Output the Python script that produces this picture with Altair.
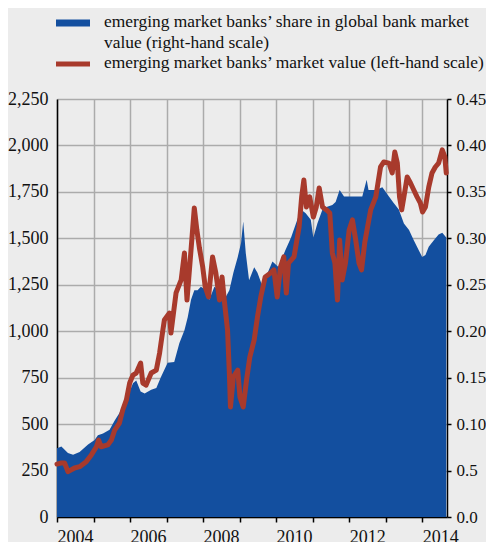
import altair as alt
import pandas as pd

# market value (left-hand scale)
red_t = [2004.00, 2004.10, 2004.21, 2004.30, 2004.48, 2004.62, 2004.80, 2004.94, 2005.08, 2005.14,
         2005.21, 2005.39, 2005.49, 2005.58, 2005.71, 2005.80, 2005.90, 2005.99, 2006.08, 2006.17,
         2006.29, 2006.35, 2006.44, 2006.58, 2006.72, 2006.81, 2006.90, 2006.94, 2007.08, 2007.12,
         2007.26, 2007.40, 2007.49, 2007.56, 2007.67, 2007.72, 2007.76, 2007.83, 2007.90, 2007.99,
         2008.06, 2008.15, 2008.26, 2008.35, 2008.45, 2008.52, 2008.58, 2008.67, 2008.72, 2008.75,
         2008.83, 2008.95, 2009.01, 2009.10, 2009.19, 2009.28, 2009.40, 2009.49, 2009.58, 2009.70,
         2009.85, 2009.94, 2010.03, 2010.12, 2010.21, 2010.28, 2010.34, 2010.49, 2010.63, 2010.70,
         2010.76, 2010.83, 2010.92, 2011.02, 2011.10, 2011.18, 2011.27, 2011.38, 2011.47, 2011.54,
         2011.61, 2011.68, 2011.74, 2011.81, 2011.90, 2012.00, 2012.09, 2012.18, 2012.27, 2012.34,
         2012.43, 2012.59, 2012.73, 2012.86, 2012.95, 2013.09, 2013.18, 2013.25, 2013.32, 2013.38,
         2013.44, 2013.50, 2013.59, 2013.68, 2013.77, 2013.86, 2013.95, 2014.01, 2014.09, 2014.18,
         2014.27, 2014.36, 2014.45, 2014.55, 2014.62, 2014.66]
red_v = [285, 290, 290, 244, 264, 271, 298, 334, 378, 414,
         378, 388, 414, 468, 506, 576, 630, 721, 764, 775,
         829, 721, 710, 775, 791, 883, 1007, 1060, 1098, 990,
         1206, 1276, 1421, 1168, 1437, 1563, 1663, 1545, 1448, 1346,
         1238, 1184, 1400, 1313, 1168, 1292, 1168, 1007, 775, 592,
         754, 791, 646, 592, 737, 861, 953, 1077, 1184, 1292,
         1313, 1330, 1184, 1346, 1400, 1206, 1367, 1400, 1561, 1723,
         1814, 1669, 1723, 1615, 1669, 1771, 1669, 1653, 1636, 1421,
         1367, 1168, 1491, 1276, 1367, 1545, 1599, 1491, 1367, 1330,
         1480, 1653, 1723, 1884, 1911, 1905, 1852, 1965, 1905, 1723,
         1653, 1723, 1830, 1798, 1760, 1723, 1690, 1642, 1669, 1776,
         1852, 1884, 1905, 1976, 1938, 1852]

# share in global bank market value (right-hand scale)
blue_t = [2004.00, 2004.12, 2004.30, 2004.44, 2004.62, 2004.85, 2005.03, 2005.12, 2005.26, 2005.44,
          2005.58, 2005.71, 2005.85, 2005.99, 2006.08, 2006.17, 2006.29, 2006.40, 2006.58, 2006.72,
          2006.85, 2007.03, 2007.21, 2007.35, 2007.49, 2007.58, 2007.67, 2007.76, 2007.85, 2007.94,
          2008.08, 2008.17, 2008.31, 2008.45, 2008.58, 2008.72, 2008.83, 2008.95, 2009.04, 2009.10,
          2009.17, 2009.26, 2009.40, 2009.49, 2009.63, 2009.77, 2009.90, 2010.07, 2010.25, 2010.41,
          2010.58, 2010.68, 2010.81, 2010.95, 2011.02, 2011.13, 2011.27, 2011.40, 2011.54, 2011.63,
          2011.74, 2011.86, 2012.00, 2012.18, 2012.36, 2012.48, 2012.53, 2012.73, 2012.91, 2013.09,
          2013.22, 2013.36, 2013.50, 2013.64, 2013.77, 2013.91, 2014.00, 2014.09, 2014.18, 2014.32,
          2014.45, 2014.55, 2014.66]
blue_s = [0.074, 0.076, 0.069, 0.067, 0.070, 0.078, 0.083, 0.088, 0.090, 0.094,
          0.104, 0.112, 0.123, 0.135, 0.144, 0.147, 0.135, 0.133, 0.137, 0.139,
          0.151, 0.166, 0.167, 0.187, 0.201, 0.215, 0.234, 0.244, 0.244, 0.248,
          0.244, 0.234, 0.248, 0.244, 0.234, 0.244, 0.263, 0.280, 0.295, 0.318,
          0.284, 0.255, 0.269, 0.263, 0.248, 0.263, 0.275, 0.269, 0.287, 0.301,
          0.320, 0.331, 0.327, 0.320, 0.301, 0.316, 0.331, 0.334, 0.336, 0.339,
          0.352, 0.345, 0.345, 0.345, 0.345, 0.363, 0.352, 0.352, 0.355, 0.345,
          0.338, 0.331, 0.316, 0.309, 0.298, 0.287, 0.280, 0.282, 0.291, 0.298,
          0.304, 0.306, 0.301]

left_ticks = [0, 250, 500, 750, 1000, 1250, 1500, 1750, 2000, 2250]
right_ticks = [0.0, 0.05, 0.10, 0.15, 0.20, 0.25, 0.30, 0.35, 0.40, 0.45]
year_ticks = list(range(2004, 2015))

legend_blue_1 = "emerging market banks\u2019 share in global bank market"
legend_blue_2 = "value (right-hand scale)"
legend_red = "emerging market banks\u2019 market value (left-hand scale)"

BLUE = "#134f9f"
RED = "#a83a2c"
FONT = "Liberation Serif"
TXT = "#111111"

red_df = pd.DataFrame({"t": red_t, "v": red_v})
blue_df = pd.DataFrame({"t": blue_t, "s": blue_s})

common_axis = dict(labelFont=FONT, labelColor=TXT, title=None,
                   domainColor="#000000", domainWidth=1.5,
                   tickColor="#000000", tickWidth=1.5,
                   gridColor="#ababab", gridWidth=1.5, gridOpacity=1)

x_scale = alt.Scale(domain=[2004, 2014.68], nice=False, zero=False)
x_axis = alt.Axis(values=year_ticks, grid=True, labelFontSize=18,
                  labelExpr="datum.value % 2 == 0 ? format(datum.value, 'd') : ''",
                  labelOffset=18, labelAlign="center", labelOverlap=False,
                  labelFlush=False, labelBound=False, tickSize=5, labelPadding=6,
                  **common_axis)

area = alt.Chart(blue_df).mark_area(color=BLUE, opacity=1, interpolate="linear").encode(
    x=alt.X("t:Q", scale=x_scale, axis=x_axis),
    y=alt.Y("s:Q", scale=alt.Scale(domain=[0, 0.45], nice=False),
            axis=alt.Axis(orient="right", values=right_ticks, grid=True,
                          tickSize=4, labelPadding=5, labelFontSize=17,
                          labelExpr="datum.value == 0 ? '0.0' : (abs(datum.value - 0.05) < 0.001 ? '0.5' : format(datum.value, '.2f'))",
                          **common_axis)),
)

line = alt.Chart(red_df).mark_line(color=RED, strokeWidth=5, strokeJoin="round",
                                   strokeCap="round").encode(
    x=alt.X("t:Q", scale=x_scale, axis=x_axis),
    y=alt.Y("v:Q", scale=alt.Scale(domain=[0, 2250], nice=False),
            axis=alt.Axis(orient="left", values=left_ticks, grid=False,
                          format=",.0f", ticks=False, labelPadding=9, labelFontSize=18,
                          **common_axis)),
)

dummy = alt.Data(values=[{"a": 1}])
sw_blue = alt.Chart(dummy).mark_rule(color=BLUE, strokeWidth=7).encode(
    x=alt.value(-1), x2=alt.value(33), y=alt.value(-76))
sw_red = alt.Chart(dummy).mark_rule(color=RED, strokeWidth=5).encode(
    x=alt.value(-1), x2=alt.value(33), y=alt.value(-35))
txt_props = dict(align="left", baseline="alphabetic", font=FONT, fontSize=17.4, color=TXT)
t1 = alt.Chart(dummy).mark_text(text=legend_blue_1, **txt_props).encode(x=alt.value(47), y=alt.value(-72))
t2 = alt.Chart(dummy).mark_text(text=legend_blue_2, **txt_props).encode(x=alt.value(47), y=alt.value(-51))
t3 = alt.Chart(dummy).mark_text(text=legend_red, **txt_props).encode(x=alt.value(47), y=alt.value(-31))

chart = alt.layer(area, line, sw_blue, sw_red, t1, t2, t3).resolve_scale(
    y="independent"
).properties(
    width=390, height=418,
    autosize=alt.AutoSizeParams(type="none"),
    padding={"left": 49, "top": 91, "right": 39, "bottom": 26},
    background="#ececec",
).configure(
    font=FONT
).configure_view(
    strokeWidth=0, fill="#ececec"
).configure_axis(
    labelFont=FONT
)

chart.save("out.html", embed_options={"renderer": "svg", "actions": False})
